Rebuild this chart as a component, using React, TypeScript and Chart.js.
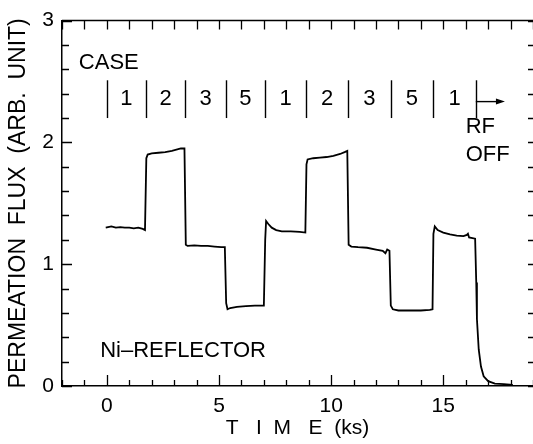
import React, { useEffect, useRef } from 'react';
import { Chart, registerables } from 'chart.js';

Chart.register(...registerables);

// Time (ks) and permeation flux (arb. unit)
const timeKs = [
  -0.05, 0.2, 0.4, 0.6, 0.8, 1.0, 1.2, 1.4, 1.6, 1.7,
  1.76, 1.82, 2.0, 2.3, 2.6, 2.9, 3.1, 3.3, 3.46,
  3.52, 3.6, 3.9, 4.2, 4.5, 4.8, 5.1, 5.26,
  5.32, 5.38, 5.5, 5.8, 6.2, 6.6, 7.0,
  7.06, 7.1, 7.2, 7.35, 7.55, 7.8, 8.2, 8.6, 8.85,
  8.9, 8.95, 9.2, 9.5, 9.8, 10.1, 10.4, 10.6, 10.72,
  10.78, 10.9, 11.2, 11.6, 12.0, 12.3, 12.42, 12.5, 12.6,
  12.66, 12.75, 13.0, 13.5, 14.0, 14.4, 14.52,
  14.56, 14.62, 14.75, 15.0, 15.3, 15.6, 15.9, 16.05, 16.1, 16.15, 16.42,
  16.47, 16.5, 16.58, 16.68, 16.8, 17.0, 17.3, 17.7, 18.1,
];
const flux = [
  1.30, 1.31, 1.30, 1.305, 1.30, 1.30, 1.295, 1.30, 1.29, 1.28,
  1.87, 1.90, 1.91, 1.915, 1.92, 1.93, 1.94, 1.95, 1.95,
  1.16, 1.15, 1.155, 1.15, 1.15, 1.145, 1.14, 1.14,
  0.68, 0.63, 0.64, 0.65, 0.655, 0.66, 0.66,
  1.20, 1.355, 1.33, 1.30, 1.28, 1.27, 1.27, 1.265, 1.26,
  1.82, 1.86, 1.87, 1.875, 1.88, 1.89, 1.905, 1.92, 1.93,
  1.16, 1.145, 1.14, 1.135, 1.12, 1.11, 1.09, 1.12, 1.11,
  0.66, 0.63, 0.62, 0.62, 0.62, 0.625, 0.63,
  1.25, 1.31, 1.28, 1.26, 1.245, 1.235, 1.23, 1.24, 1.25, 1.22, 1.21,
  0.85, 0.55, 0.30, 0.16, 0.08, 0.04, 0.02, 0.015, 0.01,
];

// CASE markers (ks) and case numbers between them
const caseBounds = [0, 1.75, 3.5, 5.3, 7.05, 8.9, 10.75, 12.65, 14.55, 16.45];
const caseLabels = ['1', '2', '3', '5', '1', '2', '3', '5', '1'];

const xTickLabels = [0, 5, 10, 15];
const yTickLabels = [0, 1, 2, 3];
const xMinorTicks = [-2, -1, 0, 1, 2, 3, 4, 5, 6, 7, 8, 9, 10, 11, 12, 13, 14, 15, 16, 17, 18, 19];
const yMinorTicks = [0, 0.2, 0.4, 0.6, 0.8, 1, 1.2, 1.4, 1.6, 1.8, 2, 2.2, 2.4, 2.6, 2.8, 3];

const FONT = '"Liberation Sans", Arial, Helvetica, sans-serif';

const overlay = {
  id: 'overlay',
  afterDraw(chart: any) {
    const { ctx, chartArea, scales } = chart;
    const { left, right, top, bottom } = chartArea;
    const x = scales.x;
    const y = scales.y;
    ctx.save();
    ctx.strokeStyle = '#000';
    ctx.fillStyle = '#000';
    ctx.lineWidth = 1.5;
    // frame top
    ctx.beginPath();
    ctx.moveTo(left, top);
    ctx.lineTo(right, top);
    ctx.stroke();

    // inward ticks
    ctx.lineWidth = 1.3;
    xMinorTicks.forEach((v) => {
      const px = Math.round(x.getPixelForValue(v)) + 0.5;
      const major = xTickLabels.includes(v);
      ctx.beginPath();
      ctx.moveTo(px, bottom);
      ctx.lineTo(px, bottom - (major ? 11 : 6));
      ctx.moveTo(px, top);
      ctx.lineTo(px, top + 9);
      ctx.stroke();
    });
    yMinorTicks.forEach((v) => {
      const py = Math.round(y.getPixelForValue(v)) + 0.5;
      const major = yTickLabels.includes(v);
      ctx.beginPath();
      ctx.moveTo(left, py);
      ctx.lineTo(left + (major ? 10 : 7), py);
      ctx.moveTo(right + 2, py);
      ctx.lineTo(right - 5, py);
      ctx.stroke();
    });

    // annotations
    ctx.font = `22px ${FONT}`;
    ctx.textBaseline = 'middle';
    ctx.textAlign = 'left';
    ctx.fillText('CASE', x.getPixelForValue(-1.25), y.getPixelForValue(2.65));
    ctx.fillText('RF', x.getPixelForValue(16.0), y.getPixelForValue(2.13));
    ctx.fillText('OFF', x.getPixelForValue(16.0), y.getPixelForValue(1.9));
    ctx.fillText('Ni–REFLECTOR', x.getPixelForValue(-0.3), y.getPixelForValue(0.29));

    const yb0 = y.getPixelForValue(2.2);
    const yb1 = y.getPixelForValue(2.51);
    ctx.lineWidth = 1.4;
    caseBounds.forEach((v) => {
      const px = Math.round(x.getPixelForValue(v)) + 0.5;
      ctx.beginPath();
      ctx.moveTo(px, yb0);
      ctx.lineTo(px, yb1);
      ctx.stroke();
    });
    ctx.textAlign = 'center';
    caseLabels.forEach((lab, i) => {
      const cx = (x.getPixelForValue(caseBounds[i]) + x.getPixelForValue(caseBounds[i + 1])) / 2;
      ctx.fillText(lab, cx, y.getPixelForValue(2.355));
    });
    // arrow after RF off
    const ay = y.getPixelForValue(2.335);
    const ax0 = x.getPixelForValue(caseBounds[caseBounds.length - 1]);
    const ax1 = x.getPixelForValue(17.75);
    ctx.beginPath();
    ctx.moveTo(ax0, ay);
    ctx.lineTo(ax1 - 6, ay);
    ctx.stroke();
    ctx.beginPath();
    ctx.moveTo(ax1, ay);
    ctx.lineTo(ax1 - 9, ay - 3);
    ctx.lineTo(ax1 - 9, ay + 3);
    ctx.closePath();
    ctx.fill();
    ctx.restore();
  },
};

export default function App() {
  const ref = useRef<HTMLCanvasElement | null>(null);
  useEffect(() => {
    document.body.style.margin = '0';
    const canvas = ref.current;
    if (!canvas) return;
    const chart = new Chart(canvas, {
      type: 'line',
      data: {
        datasets: [
          {
            data: timeKs.map((t, i) => ({ x: t, y: flux[i] })),
            borderColor: '#000',
            borderWidth: 1.8,
            pointRadius: 0,
            tension: 0,
            fill: false,
          },
        ],
      },
      options: {
        responsive: false,
        animation: false,
        devicePixelRatio: 1,
        layout: { padding: { top: 14, left: 0, right: 0, bottom: 0 } },
        plugins: { legend: { display: false }, tooltip: { enabled: false } },
        scales: {
          x: {
            type: 'linear',
            min: -2,
            max: 19,
            afterBuildTicks: (s: any) => {
              s.ticks = xTickLabels.map((v) => ({ value: v }));
            },
            afterFit: (s: any) => {
              s.height = 58;
            },
            grid: { display: false, drawTicks: false },
            border: { display: true, color: '#000', width: 1.5 },
            ticks: {
              color: '#000',
              font: { family: FONT, size: 21 },
              padding: 8,
              maxRotation: 0,
              autoSkip: false,
            },
            title: {
              display: true,
              text: 'T   I  M   E  (ks)',
              color: '#000',
              font: { family: FONT, size: 21 },
              padding: { top: 0, bottom: 3 },
            },
          },
          y: {
            type: 'linear',
            min: 0,
            max: 3,
            afterBuildTicks: (s: any) => {
              s.ticks = yTickLabels.map((v) => ({ value: v }));
            },
            afterFit: (s: any) => {
              s.width = 62;
            },
            grid: { display: false, drawTicks: false },
            border: { display: true, color: '#000', width: 1.5 },
            ticks: {
              color: '#000',
              font: { family: FONT, size: 21 },
              padding: 8,
            },
            title: {
              display: true,
              text: 'PERMEATION  FLUX  (ARB.  UNIT)',
              color: '#000',
              font: { family: FONT, size: 23 },
              padding: { top: 5, bottom: 0 },
            },
          },
        },
      },
      plugins: [overlay],
    });
    return () => chart.destroy();
  }, []);
  return (
    <div style={{ position: 'absolute', left: 0, top: 0, width: 533, height: 444 }}>
      <canvas ref={ref} width={533} height={444} />
    </div>
  );
}
